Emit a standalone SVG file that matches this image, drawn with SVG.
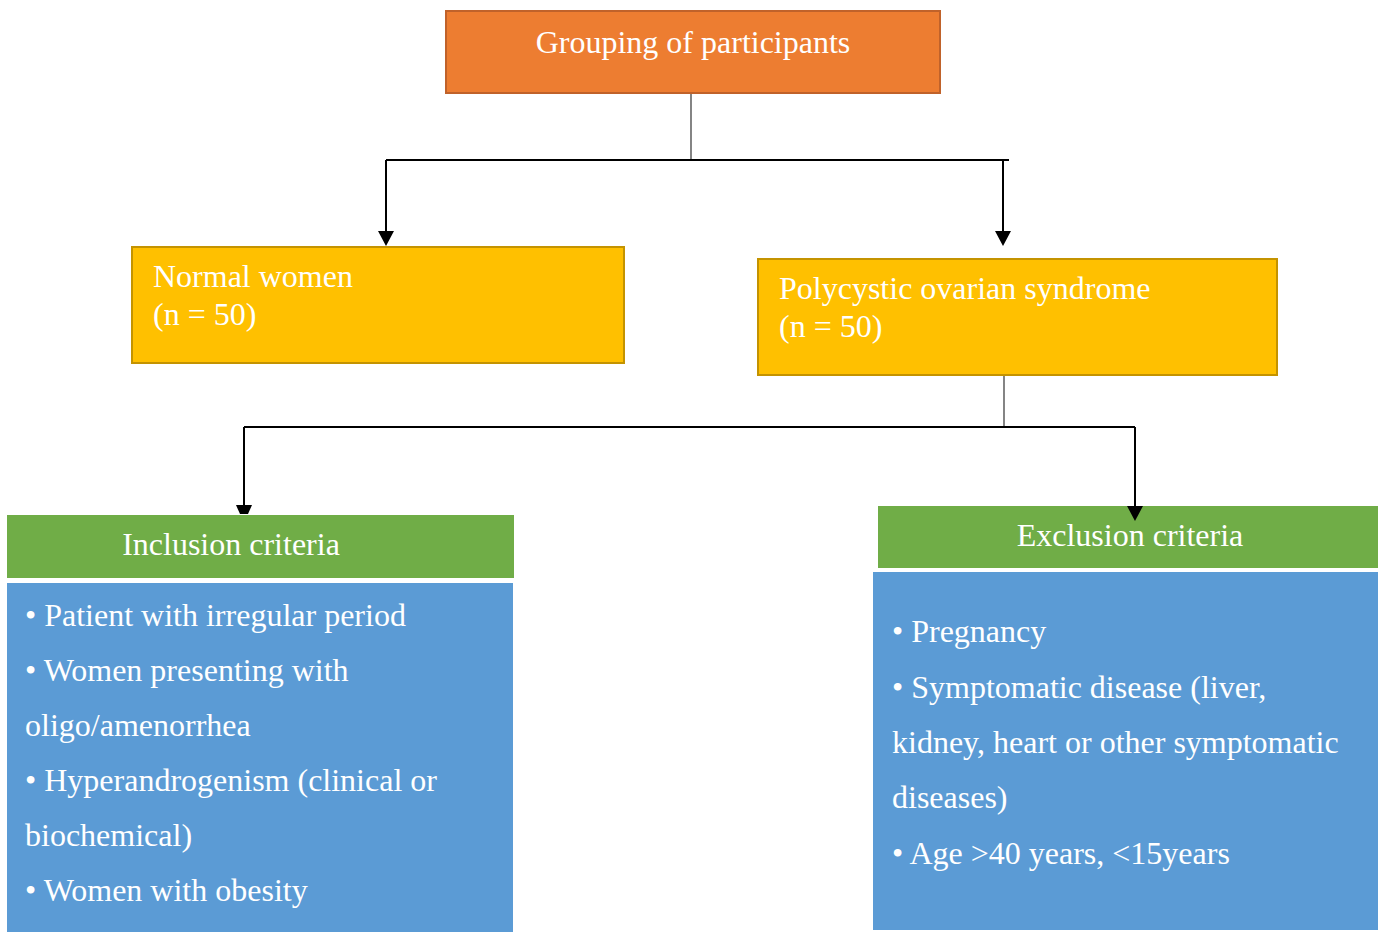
<svg xmlns="http://www.w3.org/2000/svg" width="1380" height="932" viewBox="0 0 1380 932">
<style>
text{font-family:"Liberation Serif","Times New Roman",serif;fill:#fff;font-size:32px}
.c{text-anchor:middle}
.orange{fill:#ED7D31;stroke:#C0622A;stroke-width:2}
.yellow{fill:#FFC000;stroke:#C49300;stroke-width:2}
.green{fill:#70AD47}
.blue{fill:#5B9BD5}
.thin{stroke:#333;stroke-width:1.2;fill:none}
.hl{stroke:#000;stroke-width:2;fill:none}
.head{fill:#000}
</style>
<rect width="1380" height="932" fill="#fff"/>
<g id="grouping">
<rect class="orange" x="446" y="11" width="494" height="82"/>
<text class="c" x="693" y="53">Grouping of participants</text>
</g>
<g id="normal">
<rect class="yellow" x="132" y="247" width="492" height="116"/>
<text x="153" y="287">Normal women</text>
<text x="153" y="325">(n = 50)</text>
</g>
<g id="pcos">
<rect class="yellow" x="758" y="259" width="519" height="116"/>
<text x="779" y="299">Polycystic ovarian syndrome</text>
<text x="779" y="337">(n = 50)</text>
</g>
<g id="inclusion">
<rect class="green" x="7" y="515" width="507" height="63"/>
<text class="c" x="231" y="555">Inclusion criteria</text>
<rect class="blue" x="7" y="583" width="506" height="349"/>
<text x="25" y="626">• Patient with irregular period</text>
<text x="25" y="681">• Women presenting with</text>
<text x="25" y="736">oligo/amenorrhea</text>
<text x="25" y="791">• Hyperandrogenism (clinical or</text>
<text x="25" y="846">biochemical)</text>
<text x="25" y="901">• Women with obesity</text>
</g>
<g id="exclusion">
<rect class="green" x="878" y="506" width="500" height="62"/>
<text class="c" x="1130" y="546">Exclusion criteria</text>
<rect class="blue" x="873" y="572" width="505" height="358"/>
<text x="892" y="642">• Pregnancy</text>
<text x="892" y="698">• Symptomatic disease (liver,</text>
<text x="892" y="753">kidney, heart or other symptomatic</text>
<text x="892" y="808">diseases)</text>
<text x="892" y="864">• Age &gt;40 years, &lt;15years</text>
</g>
<g id="connectors">
<line class="thin" x1="691" y1="94" x2="691" y2="160"/>
<line class="hl" x1="386" y1="160" x2="1009" y2="160"/>
<path d="M386,160 V231" class="hl"/>
<path class="head" d="M378,231 L394,231 L386,246 Z"/>
<path d="M1003,160 V231" class="hl"/>
<path class="head" d="M995,231 L1011,231 L1003,246 Z"/>
<line class="thin" x1="1004" y1="376" x2="1004" y2="427"/>
<line class="hl" x1="244" y1="427" x2="1135" y2="427"/>
<path d="M244,427 V505" class="hl"/>
<path class="head" d="M236,505 L252,505 L248,514 L240,514 Z"/>
<path d="M1135,427 V506" class="hl"/>
<path class="head" d="M1127,506 L1143,506 L1135,521 Z"/>
</g>
</svg>
